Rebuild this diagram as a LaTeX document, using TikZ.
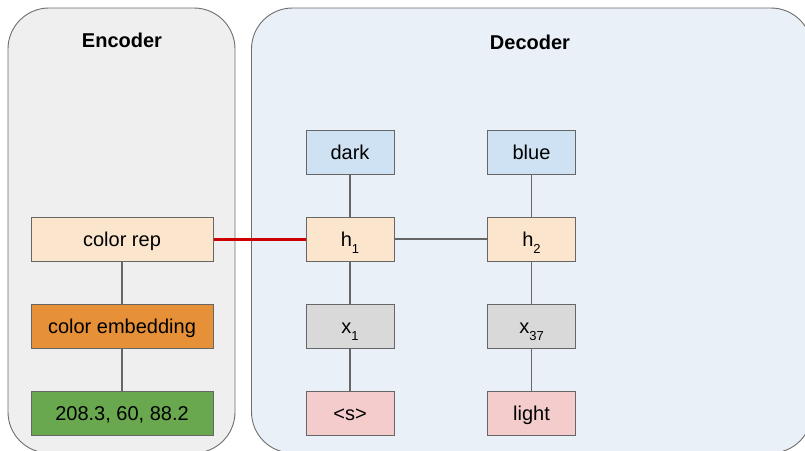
\documentclass[tikz,border=0pt]{standalone}
\usepackage{fontspec}
\setmainfont{Liberation Sans}
\definecolor{encfill}{HTML}{EFEFEF}
\definecolor{decfill}{HTML}{E9F0F8}
\definecolor{panelline}{HTML}{6E6E6E}
\definecolor{boxline}{HTML}{666666}
\definecolor{conn}{HTML}{666666}
\definecolor{redconn}{HTML}{CC0000}
\definecolor{lblue}{HTML}{CFE2F3}
\definecolor{lorange}{HTML}{FCE5CD}
\definecolor{orangec}{HTML}{E69138}
\definecolor{greenc}{HTML}{6AA84F}
\definecolor{lgray}{HTML}{D9D9D9}
\definecolor{lred}{HTML}{F4CCCC}
\newcommand\subtxt[1]{\raisebox{-7.3pt}{\fontsize{13}{13}\selectfont #1}}
\begin{document}
\begin{tikzpicture}[x=1pt,y=-1pt,
  panel/.style={draw=panelline, line width=0.9pt, rounded corners=41pt},
  box/.style={draw=boxline, line width=1pt, minimum height=44pt, inner sep=0pt,
    font=\fontsize{20}{24}\selectfont, text height=14.6pt, text depth=0pt},
  encbox/.style={box, minimum width=182pt},
  decbox/.style={box, minimum width=88pt},
  title/.style={font=\fontsize{20}{24}\selectfont\bfseries, anchor=base, inner sep=0pt},
  wire/.style={draw=conn, line width=1.3pt},
  redwire/.style={draw=redconn, line width=3pt}
]
\useasboundingbox (0,0) rectangle (805,450);
\clip (0,0) rectangle (805,450);
\fill[white] (0,0) rectangle (805,450);
% panels
\path[panel, fill=encfill] (8,8) rectangle (235,453);
\path[panel, fill=decfill] (251.5,8) rectangle (812,453);
\node[title] (enc) at (122,47.3) {Encoder};
\node[title] (dec) at (530,49.5) {Decoder};
% encoder nodes
\node[encbox, fill=lorange] (crep) at (122,239) {color rep};
\node[encbox, fill=orangec] (cemb) at (122,326) {color embedding};
\node[encbox, fill=greenc] (val) at (122,413) {208.3, 60, 88.2};
% decoder column 1
\node[decbox, fill=lblue] (dark) at (350,152) {dark};
\node[decbox, fill=lorange] (h1) at (350,239) {h\subtxt{1}};
\node[decbox, fill=lgray] (x1) at (350,326) {x\subtxt{1}};
\node[decbox, fill=lred] (s) at (350,413) {<s>};
% decoder column 2
\node[decbox, fill=lblue] (blue) at (531.5,152) {blue};
\node[decbox, fill=lorange] (h2) at (531.5,239) {h\subtxt{2}};
\node[decbox, fill=lgray] (x37) at (531.5,326) {x\subtxt{37}};
\node[decbox, fill=lred] (light) at (531.5,413) {light};
% connectors
\path[wire] (crep) -- (cemb);
\path[wire] (cemb) -- (val);
\path[wire] (dark) -- (h1);
\path[wire] (h1) -- (x1);
\path[wire] (x1) -- (s);
\path[wire] (blue) -- (h2);
\path[wire] (h2) -- (x37);
\path[wire] (x37) -- (light);
\path[wire] (h1) -- (h2);
\path[redwire] (crep) -- (h1);
\end{tikzpicture}
\end{document}
